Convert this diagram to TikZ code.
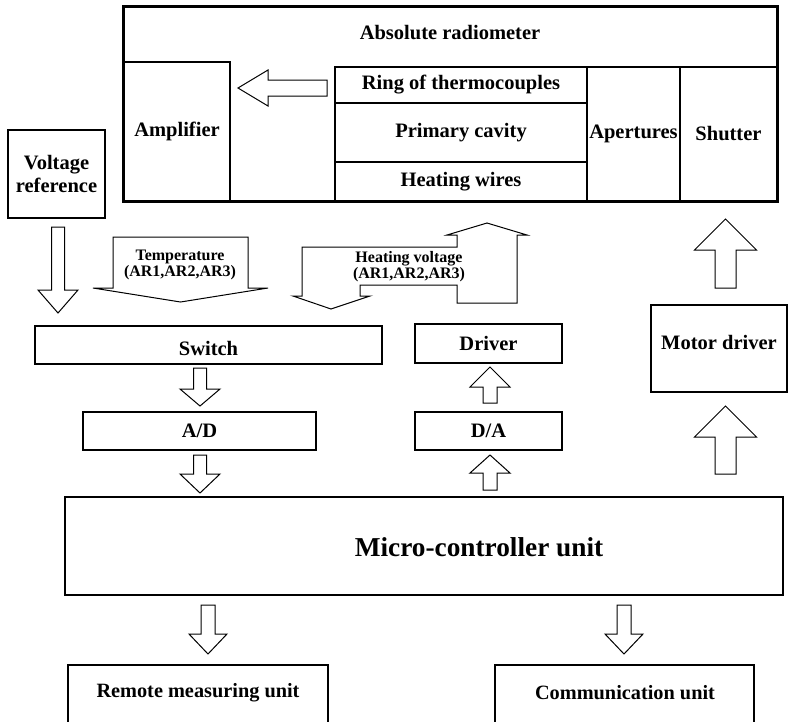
\documentclass[tikz,border=0pt]{standalone}
\usepackage{fontspec}
\setmainfont{Liberation Serif}
\newcommand\darrow[6]{%
  \draw[blk] ({#1-#5},#2) -- ({#1+#5},#2) -- ({#1+#5},#3) -- ({#1+#6},#3) -- (#1,#4) -- ({#1-#6},#3) -- ({#1-#5},#3) -- cycle;}
\begin{document}
\begin{tikzpicture}[x=1pt,y=-1pt,
  box/.style={draw, line width=1.2pt, inner sep=0pt, rectangle, align=center,
    font=\fontsize{20.5}{23}\selectfont\bfseries},
  lbl/.style={font=\fontsize{20.5}{23}\selectfont\bfseries, inner sep=0pt},
  blk/.style={draw, line width=1pt, fill=white, line join=miter},
  small/.style={font=\fontsize{16}{16}\selectfont\bfseries, align=center, inner sep=0pt}]
\useasboundingbox (0,0) rectangle (788,721);
% Absolute radiometer
\node[box, minimum width=653pt, minimum height=194pt, line width=1.6pt] (rad) at (450.5,104) {};
\node[lbl] (radt) at (450,33) {Absolute radiometer};
\node[box, minimum width=106pt, minimum height=139pt] (amp) at (177,131.5) {Amplifier};
\node[box, minimum width=252pt, minimum height=36pt] (ring) at (461,85) {Ring of thermocouples};
\node[box, minimum width=252pt, minimum height=59pt] (cav) at (461,132.5) {Primary cavity};
\node[box, minimum width=252pt, minimum height=39pt] (wire) at (461,181.5) {Heating wires};
\node[box, minimum width=93pt, minimum height=134pt] (ape) at (633.5,134) {Apertures};
\node[box, minimum width=97pt, minimum height=134pt] (shu) at (728.5,134) {Shutter};
\draw[line width=1.6pt] (rad.south west) rectangle (rad.north east);
\draw[blk] (327,80) -- (268,80) -- (268,70) -- (238,88) -- (268,106) -- (268,96) -- (327,96) -- cycle;
% left column
\node[box, minimum width=97pt, minimum height=88pt] (vref) at (56.5,174) {Voltage\\reference};
\node[box, minimum width=347pt, minimum height=38pt] (sw) at (208.5,345) {};
\node[lbl] (swt) at (208.5,348) {Switch};
\node[box, minimum width=233pt, minimum height=38pt] (ad) at (199.5,431) {A/D};
\node[box, minimum width=147pt, minimum height=39pt] (drv) at (488.5,343.5) {Driver};
\node[box, minimum width=147pt, minimum height=38pt] (da) at (488.5,431) {D/A};
\node[box, minimum width=136pt, minimum height=87pt] (mot) at (719,348.5) {};
\node[lbl] (mott) at (719,342) {Motor driver};
\node[box, minimum width=718pt, minimum height=98pt] (mcu) at (424,546) {};
\node[font=\fontsize{27.3}{30}\selectfont\bfseries, inner sep=0pt] (mcut) at (479,547) {Micro-controller unit};
% bottom boxes (cut by page edge)
\draw[line width=1.2pt] (68,722) -- (68,665) coordinate (rmtl) -- (328,665) -- (328,722);
\node[font=\fontsize{20.3}{23}\selectfont\bfseries, inner sep=0pt] (rmu) at (198,693) {Remote measuring unit};
\draw[line width=1.2pt] (495,722) -- (495,665) coordinate (cmtl) -- (754,665) -- (754,722);
\node[font=\fontsize{20.3}{23}\selectfont\bfseries, inner sep=0pt] (cmu) at (625,693) {Communication unit};
% block arrows
\darrow{58}{227}{290}{313}{6.5}{20}
\darrow{180.5}{237}{288}{302}{67.5}{87.5}
\node[small] (templbl) at (180,265) {Temperature\\(AR1,AR2,AR3)};
\draw[blk] (302,296) -- (302,247) -- (457,247) -- (457,235) -- (447,235) -- (487,223) -- (527,235) -- (517,235) -- (517,303) -- (457,303) -- (457,285) -- (360,285) -- (360,296) -- (370,296) -- (331,309) -- (293,296) -- cycle;
\node[small] (heatlbl) at (409,267) {Heating voltage\\(AR1,AR2,AR3)};
\darrow{200}{368}{389}{406}{6.5}{20}
\darrow{200}{455}{474}{493}{6.5}{20}
\darrow{490}{490}{473}{455}{7}{20}
\darrow{490}{403}{387}{367}{7}{20}
\darrow{725.5}{288}{250}{219}{10.5}{31}
\darrow{725.5}{474}{437}{406}{10.5}{31}
\darrow{208}{605}{634}{654}{7}{19}
\darrow{624}{605}{634}{654}{7}{19}
\end{tikzpicture}
\end{document}
